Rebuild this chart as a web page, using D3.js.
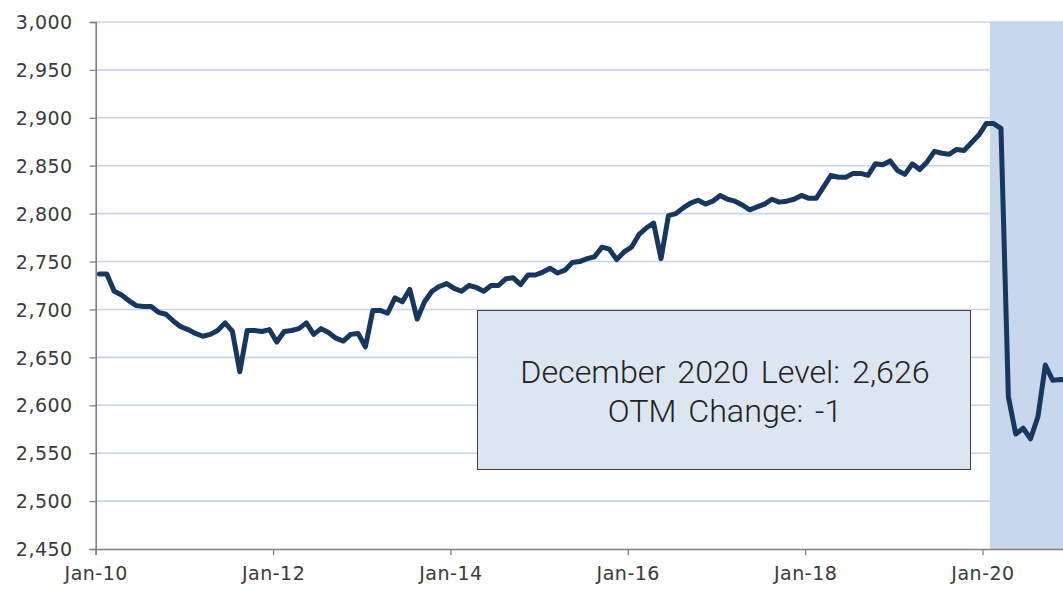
<!DOCTYPE html>
<html><head><meta charset="utf-8">
<script src="https://cdn.jsdelivr.net/npm/d3@7"></script>
<style>html,body{margin:0;padding:0;background:#fff;overflow:hidden}</style>
</head><body>
<svg id="c" width="1063" height="589"></svg>
<script>
// ---- data ----
const startYear = 2010, startMonth = 0; // Jan 2010
const values = [
2737,2737,2719,2715,2709,2704,2703,2703,2697,2695,2688,2682,
2679,2675,2672,2674,2678,2686,2677,2635,2678,2678,2677,2679,
2666,2677,2678,2680,2686,2674,2680,2676,2670,2667,2674,2675,
2661,2699,2699,2696,2712,2708,2721,2690,2708,2719,2724,2727,
2722,2719,2725,2723,2719,2725,2725,2732,2733,2726,2736,2736,
2739,2743,2738,2741,2749,2750,2753,2755,2765,2763,2752,2760,
2765,2778,2785,2790,2753,2798,2800,2806,2811,2814,2810,2813,
2819,2815,2813,2809,2804,2807,2810,2815,2812,2813,2815,2819,
2816,2816,2828,2840,2838,2838,2842,2842,2840,2852,2851,2855,
2845,2841,2852,2846,2854,2865,2863,2862,2867,2866,2874,2882,
2894,2894,2889,2609,2570,2576,2565,2588,2642,2626,2627,2626
];
const monthNames = ["Jan","Feb","Mar","Apr","May","Jun","Jul","Aug","Sep","Oct","Nov","Dec"];
const categories = values.map((v,i)=>{
  const m = (startMonth+i)%12, yr = startYear + Math.floor((startMonth+i)/12);
  return monthNames[m] + "-" + String(yr%100).padStart(2,"0");
});
const xTickLabels = ["Jan-10","Jan-12","Jan-14","Jan-16","Jan-18","Jan-20"];
const yTicks = [2450,2500,2550,2600,2650,2700,2750,2800,2850,2900,2950,3000];
const recessionStart = "Feb-20";
const boxLines = ["December 2020 Level: 2,626","OTM Change: -1"];

(function(){
// ---- layout ----
const svg = d3.select("#c");
const pLeft = 95.7, pTop = 22, pBottom = 549, monthW = 7.39;
const n = values.length;
const x = d3.scaleLinear().domain([0, n]).range([pLeft, pLeft + n*monthW]);
const y = d3.scaleLinear().domain([2450, 3000]).range([pBottom, pTop]);
const font = "DejaVu Sans, sans-serif";
const txt = "#3a3a3a";

// recession shade
const rs = categories.indexOf(recessionStart);
svg.append("rect").attr("x", x(rs)).attr("y", y(3000))
  .attr("width", x(n) - x(rs)).attr("height", y(2450)-y(3000))
  .attr("fill", "#c8d7eb");

// gridlines
svg.append("g").selectAll("line").data(yTicks.filter(d=>d>2450)).join("line")
  .attr("x1", pLeft).attr("x2", 1063)
  .attr("y1", d=>y(d)).attr("y2", d=>y(d))
  .attr("stroke", "#c6d6ec").attr("stroke-width", 1.6);

// annotation box
const box = {x0: 477, y0: 310, x1: 970, y1: 469};
svg.append("rect").attr("x", box.x0+0.5).attr("y", box.y0+0.5)
  .attr("width", box.x1-box.x0).attr("height", box.y1-box.y0)
  .attr("fill", "#dce6f2").attr("stroke", "#404040").attr("stroke-width", 1);
const bt = svg.append("g").selectAll("text").data(boxLines).join("text")
  .attr("x", 725).attr("y", (d,i)=>383 + i*38.5)
  .attr("text-anchor","middle").attr("font-family", "Roboto, 'Open Sans', sans-serif")
  .attr("font-size", 31).attr("font-weight", 300).attr("word-spacing", 4)
  .attr("fill", "#222").text(d=>d);
// fit first line to the reference width
const w0 = bt.node().getComputedTextLength();
if (w0 > 0) bt.attr("font-size", 31 * 410 / w0);

// line
const line = d3.line().x((d,i)=>x(i+0.5)).y(d=>y(d));
svg.append("path").datum(values).attr("d", line)
  .attr("fill","none").attr("stroke","#17375e").attr("stroke-width",5)
  .attr("stroke-linejoin","round").attr("stroke-linecap","round");

// y axis
const yAxis = d3.axisLeft(y).tickValues(yTicks).tickSize(6).tickPadding(17)
  .tickFormat(d3.format(","));
const gy = svg.append("g").attr("transform", `translate(${pLeft},0)`).call(yAxis);
gy.select(".domain").attr("stroke","#808080").attr("stroke-width",1.6);
gy.selectAll(".tick line").attr("stroke","#808080").attr("stroke-width",1.3);
gy.selectAll("text").attr("font-family", font).attr("font-size", 19)
  .attr("fill", txt).attr("letter-spacing", 0.5).attr("dy","0.35em");

// x axis
const xTickIdx = xTickLabels.map(l=>categories.indexOf(l));
const xAxis = d3.axisBottom(x).tickValues(xTickIdx).tickSize(6).tickPadding(12)
  .tickFormat(d=>categories[d]);
const gx = svg.append("g").attr("transform", `translate(0,${pBottom})`).call(xAxis);
gx.select(".domain").attr("stroke","#808080").attr("stroke-width",1.6);
gx.selectAll(".tick line").attr("stroke","#808080").attr("stroke-width",1.3);
gx.selectAll("text").attr("font-family", font).attr("font-size", 19)
  .attr("fill", txt).attr("letter-spacing", 0.5);
})();
</script>
</body></html>
